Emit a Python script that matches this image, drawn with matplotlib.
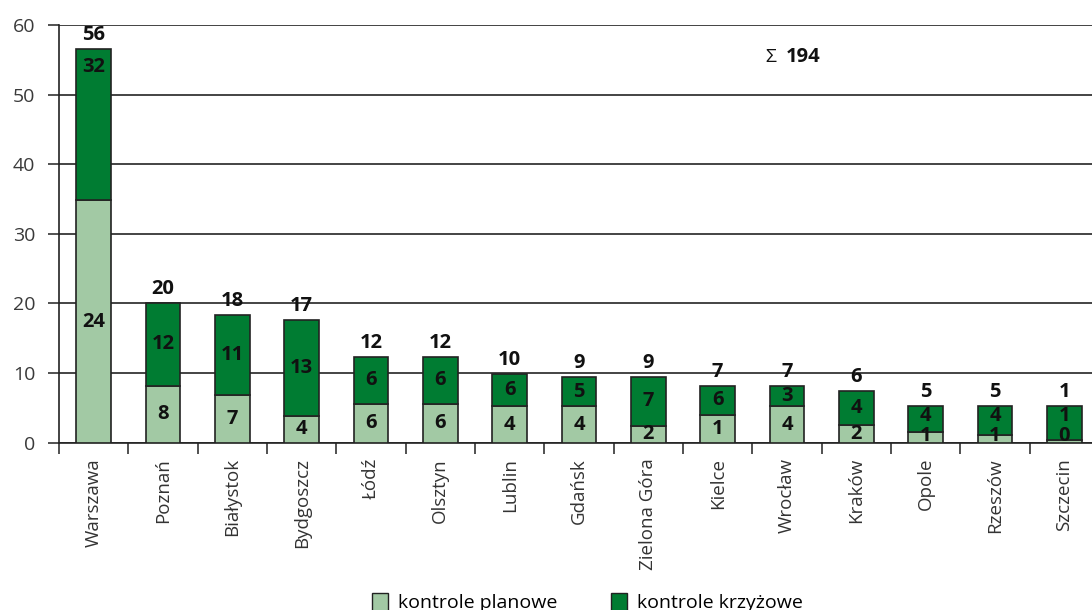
import matplotlib.pyplot as plt
from matplotlib.patches import Patch

cities = ["Warszawa", "Poznań", "Białystok", "Bydgoszcz", "Łódź", "Olsztyn",
          "Lublin", "Gdańsk", "Zielona Góra", "Kielce", "Wrocław", "Kraków",
          "Opole", "Rzeszów", "Szczecin"]

# values printed on the chart
planned = [24, 8, 7, 4, 6, 6, 4, 4, 2, 1, 4, 2, 1, 1, 0]
cross = [32, 12, 11, 13, 6, 6, 6, 5, 7, 6, 3, 4, 4, 4, 1]
totals = [56, 20, 18, 17, 12, 12, 10, 9, 9, 7, 7, 6, 5, 5, 1]

# bar heights as drawn in the original (they do not follow the labels)
planned_h = [34.8, 8.15, 6.85, 3.9, 5.6, 5.6, 5.2, 5.2, 2.4, 4.0, 5.2, 2.5,
             1.5, 1.1, 0.35]
top_h = [56.6, 20.1, 18.4, 17.6, 12.3, 12.3, 9.9, 9.45, 9.45, 8.2, 8.2, 7.4,
         5.3, 5.3, 5.3]

LIGHT = "#a2c9a4"
DARK = "#007c32"
FONT = "Open Sans"

fig = plt.figure(figsize=(10.92, 6.10), dpi=100)
ax = fig.add_axes([0.054, 0.2743, 0.9524, 0.6847])

x = range(len(cities))
cross_h = [t - p for t, p in zip(top_h, planned_h)]
ax.bar(x, planned_h, width=0.5, color=LIGHT, edgecolor="#222222",
       linewidth=1.2, zorder=3)
ax.bar(x, cross_h, bottom=planned_h, width=0.5, color=DARK,
       edgecolor="#222222", linewidth=1.2, zorder=3)

lbl = dict(ha="center", va="center", fontsize=14.5, fontweight="bold",
           family=FONT, color="#111111", zorder=5)
for i in x:
    yl = max(planned_h[i] / 2, 1.0)
    ax.text(i, yl, str(planned[i]), **lbl)
    if cross_h[i] > 15:
        yd = top_h[i] - 2.6
    else:
        yd = max(planned_h[i] + cross_h[i] / 2, yl + 2.8)
    ax.text(i, yd, str(cross[i]), **lbl)
    ax.annotate(str(totals[i]), (i, top_h[i]), xytext=(0, 10),
                textcoords="offset points", **lbl)

ax.text(0.679, 0.923, "Σ", transform=ax.transAxes, ha="left", va="center",
        fontsize=14, family=FONT, color="#111111")
ax.text(0.699, 0.923, str(sum(totals)), transform=ax.transAxes, ha="left",
        va="center", fontsize=14.5, fontweight="bold", family=FONT,
        color="#111111")

ax.set_xlim(-0.5, len(cities) - 0.5)
ax.set_ylim(0, 60)
ax.set_yticks(range(0, 61, 10))
ax.yaxis.grid(True, color="#111111", linewidth=1.1)
ax.set_axisbelow(True)

ax.set_xticks(list(x))
ax.set_xticklabels(cities, rotation=90, fontsize=13.5, family=FONT,
                   color="#333333")
ax.set_xticks([i - 0.5 for i in range(len(cities) + 1)], minor=True)
ax.tick_params(axis="x", which="major", length=0, pad=11)
ax.tick_params(axis="x", which="minor", length=8, width=1.2,
               color="#333333", direction="out")
ax.tick_params(axis="y", length=8, width=1.2, color="#333333",
               direction="out", labelsize=14, labelcolor="#3a3a3a", pad=9)
for lab in ax.get_yticklabels():
    lab.set_family(FONT)

for side in ("top", "right"):
    ax.spines[side].set_visible(False)
for side in ("left", "bottom"):
    ax.spines[side].set_color("#222222")
    ax.spines[side].set_linewidth(1.2)

handles = [Patch(facecolor=LIGHT, edgecolor="#222222", label="kontrole planowe"),
           Patch(facecolor=DARK, edgecolor="#222222", label="kontrole krzyżowe")]
fig.legend(handles=handles, loc="upper center", bbox_to_anchor=(0.538, 0.05),
           ncol=2, frameon=False, handlelength=0.8, handleheight=1.0,
           handletextpad=0.5, columnspacing=2.8, borderpad=0.2,
           prop={"family": FONT, "size": 14})

fig.savefig("out.png", dpi=100)
